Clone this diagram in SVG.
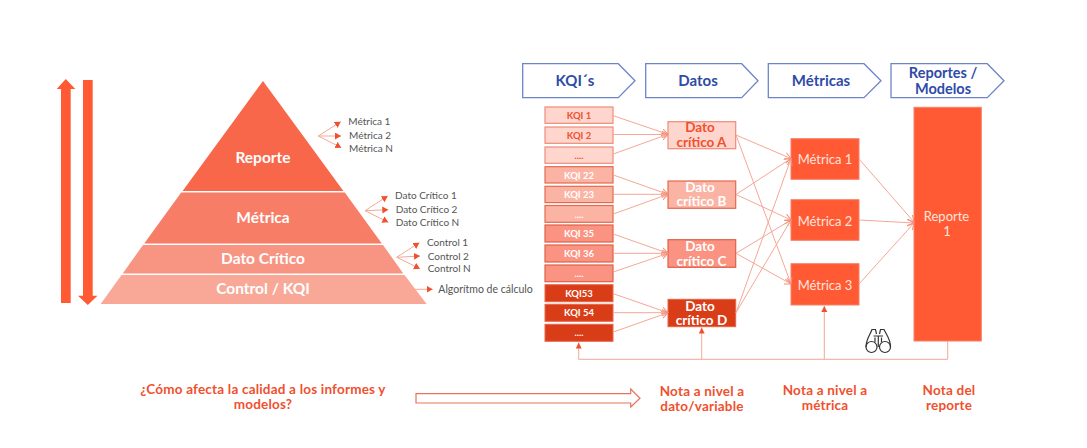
<svg xmlns="http://www.w3.org/2000/svg" width="1087" height="448" viewBox="0 0 1087 448">
<style>
text{font-family:"Lato","Liberation Sans",sans-serif;text-anchor:middle}
.py{font-weight:700;font-size:15.5px;fill:#fff}
.lab{font-size:10px;fill:#555;text-anchor:start}
.ch{fill:#fff;stroke:#6F84C8;stroke-width:1.3}
.cht{font-weight:700;font-size:15px;fill:#2F4BA8}
.k{font-weight:700;font-size:9.5px;fill:#fff}
.k1{fill:#FFD6CD;stroke:#EE8B78;stroke-width:1.2}
.k2{fill:#FBB3A4;stroke:#E5694F;stroke-width:1.2}
.k3{fill:#FB9382;stroke:#DF5F47;stroke-width:1.2}
.k4{fill:#D93D18;stroke:#E8644A;stroke-width:1}
.d{font-weight:700;font-size:13.5px;fill:#fff}
.m{fill:#FF5A33;stroke:#F58068;stroke-width:1}
.mt{font-size:13px;fill:#FFE5DE}
.note{font-weight:700;font-size:13.5px;letter-spacing:.2px;fill:#F0502E}
.cm{fill:none;stroke:#F6A796;stroke-width:1;marker-end:url(#a)}
.cb{fill:none;stroke:#F6A796;stroke-width:1;marker-end:url(#b)}
.cs{fill:none;stroke:#F6A796;stroke-width:1;marker-end:url(#s)}
</style>
<defs>
<marker id="a" markerUnits="userSpaceOnUse" markerWidth="7" markerHeight="8" refX="6.500" refY="4" orient="auto"><path d="M0 .5L6.500 4L0 7.500" fill="none" stroke="#F58E7A" stroke-width="1"/></marker>
<marker id="b" markerUnits="userSpaceOnUse" markerWidth="8" markerHeight="8" refX="6" refY="3.500" orient="auto"><path d="M0 0L6 3.500L0 7z" fill="#F0502E"/></marker>
<marker id="s" markerUnits="userSpaceOnUse" markerWidth="8" markerHeight="8" refX="6" refY="3" orient="auto"><path d="M0 0L6 3L0 6z" fill="#F0502E"/></marker>
</defs>

<g id="arrow-up"><path d="M61 303V89H56.700L65.800 79L75.300 89H70.700V303z" fill="#FF5A33"/></g>
<g id="arrow-down"><path d="M83 80H92.700V295.700H97.500L87.800 305L78 295.700H83z" fill="#FF5A33"/></g>

<g id="pyramid-reporte"><path d="M263 81L343.400 191H182.600z" fill="#F9674A"/><text class="py" x="263" y="163">Reporte</text></g>
<g id="pyramid-metrica"><path d="M181.200 192.500H344.800L381.800 243.500H144.200z" fill="#F77D66"/><text class="py" x="263" y="223">Métrica</text></g>
<g id="pyramid-dato"><path d="M143 245H383L403.300 273.500H122.700z" fill="#F89482"/><text class="py" x="263" y="264">Dato Crítico</text></g>
<g id="pyramid-control"><path d="M121.500 275H404.500L426.700 304H100.700z" fill="#F9A898"/><text class="py" x="263" y="294">Control / KQI</text></g>

<g id="pyramid-connectors">
<path class="cb" d="M318.300 136L340.700 121.700"/><path class="cb" d="M318.300 136H341"/><path class="cb" d="M318.300 136L341.300 147.700"/>
<path class="cb" d="M365 210.700L387.700 196"/><path class="cb" d="M365 210.700L388.300 209.700"/><path class="cb" d="M365 210.700L388.300 222.300"/>
<path class="cb" d="M396.700 257.300L419.300 242.700"/><path class="cb" d="M396.700 257.300L420 256"/><path class="cb" d="M396.700 257.300L420 268.700"/>
<path class="cb" d="M411.700 289.300H432.700"/>
</g>
<g id="pyramid-labels">
<text class="lab" x="348.300" y="125">Métrica 1</text><text class="lab" x="349" y="138.700">Métrica 2</text><text class="lab" x="349" y="151.700">Métrica N</text>
<text class="lab" x="395" y="199">Dato Crítico 1</text><text class="lab" x="395.700" y="212.700">Dato Crítico 2</text><text class="lab" x="395.700" y="226">Dato Crítico N</text>
<text class="lab" x="427" y="246">Control 1</text><text class="lab" x="427.700" y="259.500">Control 2</text><text class="lab" x="427.700" y="272">Control N</text>
<text class="lab" style="font-size:10.500px" x="438.300" y="293">Algorítmo de cálculo</text>
</g>

<g id="head-kqi"><path class="ch" d="M522.700 63.700H618.300L635 80.700L618.300 97.700H522.700z"/><text class="cht" x="575" y="86">KQI´s</text></g>
<g id="head-datos"><path class="ch" d="M645.700 63.700H741.700L758 80.700L741.700 97.700H645.700z"/><text class="cht" x="698" y="86">Datos</text></g>
<g id="head-metricas"><path class="ch" d="M768.300 63.700H864L881 80.700L864 97.700H768.300z"/><text class="cht" x="821" y="86">Métricas</text></g>
<g id="head-reportes"><path class="ch" d="M891 63.700H987.300L1004 80.700L987.300 97.700H891z"/><text class="cht" style="font-size:14.500px" x="943" y="77.500">Reportes /</text><text class="cht" style="font-size:14.500px" x="943" y="94">Modelos</text></g>

<g id="kqi-1"><rect class="k1" x="545" y="107" width="68" height="16.300"/><text class="k" style="fill:#F0502E" x="579" y="118.800">KQI 1</text></g>
<g id="kqi-2"><rect class="k1" x="545" y="127" width="68" height="16.300"/><text class="k" style="fill:#F0502E" x="579" y="138.800">KQI 2</text></g>
<g id="kqi-3"><rect class="k1" x="545" y="147" width="68" height="16.300"/><text class="k" style="fill:#F0502E" x="579" y="158.800">....</text></g>
<g id="kqi-22"><rect class="k2" x="545" y="166.700" width="68" height="16.300"/><text class="k" x="579" y="178.500">KQI 22</text></g>
<g id="kqi-23"><rect class="k2" x="545" y="186.300" width="68" height="16.300"/><text class="k" x="579" y="198">KQI 23</text></g>
<g id="kqi-24"><rect class="k2" x="545" y="205.500" width="68" height="16.800"/><text class="k" x="579" y="218">....</text></g>
<g id="kqi-35"><rect class="k3" x="545" y="225" width="68" height="17"/><text class="k" x="579" y="237">KQI 35</text></g>
<g id="kqi-36"><rect class="k3" x="545" y="245" width="68" height="17"/><text class="k" x="579" y="257">KQI 36</text></g>
<g id="kqi-37"><rect class="k3" x="545" y="265" width="68" height="16.700"/><text class="k" x="579" y="277">....</text></g>
<g id="kqi-53"><rect class="k4" x="545" y="284.700" width="68" height="17"/><text class="k" x="579" y="296.500">KQI53</text></g>
<g id="kqi-54"><rect class="k4" x="545" y="304.300" width="68" height="17"/><text class="k" x="579" y="316">KQI 54</text></g>
<g id="kqi-55"><rect class="k4" x="545" y="324.300" width="68" height="17"/><text class="k" x="579" y="336">....</text></g>

<g id="dato-a"><rect class="k1" x="668" y="121.700" width="67.700" height="27"/><text class="d" style="fill:#F0502E" x="700" y="132.300">Dato</text><text class="d" style="fill:#F0502E" x="701.500" y="147">crítico A</text></g>
<g id="dato-b"><rect class="k2" x="668" y="181" width="67.700" height="27.300"/><text class="d" x="700" y="191.500">Dato</text><text class="d" x="701.500" y="206.300">crítico B</text></g>
<g id="dato-c"><rect class="k3" x="668" y="239.700" width="67.700" height="27.600"/><text class="d" x="700" y="250.500">Dato</text><text class="d" x="701.500" y="265.500">crítico C</text></g>
<g id="dato-d"><rect class="k4" x="668" y="299.300" width="67.700" height="27.400"/><text class="d" x="700" y="310.500">Dato</text><text class="d" x="701.500" y="325.200">crítico D</text></g>

<g id="metrica-1"><rect class="m" x="791" y="138.700" width="68" height="40.600"/><text class="mt" x="825" y="164">Métrica 1</text></g>
<g id="metrica-2"><rect class="m" x="791" y="199.700" width="68" height="40.600"/><text class="mt" x="825" y="226">Métrica 2</text></g>
<g id="metrica-3"><rect class="m" x="791" y="263.700" width="68" height="41.300"/><text class="mt" x="825" y="290">Métrica 3</text></g>
<g id="reporte-1"><rect class="m" x="914" y="107.300" width="67.300" height="233.700"/><text class="mt" x="946.500" y="221">Reporte</text><text class="mt" x="947" y="236">1</text></g>

<g id="connectors">
<path class="cm" d="M613.300 115.700L668 134.300"/><path class="cm" d="M613.300 134.500H668"/><path class="cm" d="M613.300 154L668 134.300"/>
<path class="cm" d="M613.300 175L668 194.300"/><path class="cm" d="M613.300 194.300H668"/><path class="cm" d="M613.300 214L668 194.300"/>
<path class="cm" d="M613.300 234L668 253.300"/><path class="cm" d="M613.300 253.300H668"/><path class="cm" d="M613.300 272L668 253.300"/>
<path class="cm" d="M613.300 293.700L668 312.700"/><path class="cm" d="M613.300 312.700H668"/><path class="cm" d="M613.300 332L668 312.700"/>
<path class="cm" d="M736 135L791 158.500"/><path class="cm" d="M736 135L791 284"/>
<path class="cm" d="M736 194.500L791 158.500"/><path class="cm" d="M736 194.500L791 220"/>
<path class="cm" d="M736 253.300L791 220"/><path class="cm" d="M736 253.300L791 284"/>
<path class="cm" d="M736 312.700L791 158.500"/><path class="cm" d="M736 312.700L791 220"/>
<path class="cm" d="M859 159L914 222"/><path class="cm" d="M859 220L914 223"/><path class="cm" d="M859 284L914 223"/>
<path class="cs" d="M947.700 341V359.300H578.700V342.500"/>
<path class="cs" d="M701.700 359.300V327.500"/>
<path class="cs" d="M824.300 359.300V306"/>
</g>

<g id="binoculars" fill="none" stroke="#333" stroke-width="1.200">
<circle cx="871.500" cy="347" r="5.500"/><circle cx="885" cy="347" r="5.500"/>
<path d="M866 347C866 339 870 335 872 329.500H875.500L876.500 334M890.500 347C890.500 339 886.500 335 884 329.500H880.500L879.500 334"/>
<path d="M873.500 336H883M878.300 336V347M875 337.500V342M881.500 337.500V342"/>
</g>

<g id="bottom-notes">
<text class="note" x="263" y="394">¿Cómo afecta la calidad a los informes y</text><text class="note" x="263" y="409">modelos?</text>
<path d="M416 393.600H630.700V389L640 398.300L630.700 407V403H416z" fill="#fff" stroke="#E8745C" stroke-width="1.200"/>
<text class="note" x="702" y="396">Nota a nivel a</text><text class="note" x="702" y="411">dato/variable</text>
<text class="note" x="825" y="395">Nota a nivel a</text><text class="note" x="825" y="410">métrica</text>
<text class="note" x="949" y="395">Nota del</text><text class="note" x="949" y="410">reporte</text>
</g>
</svg>
